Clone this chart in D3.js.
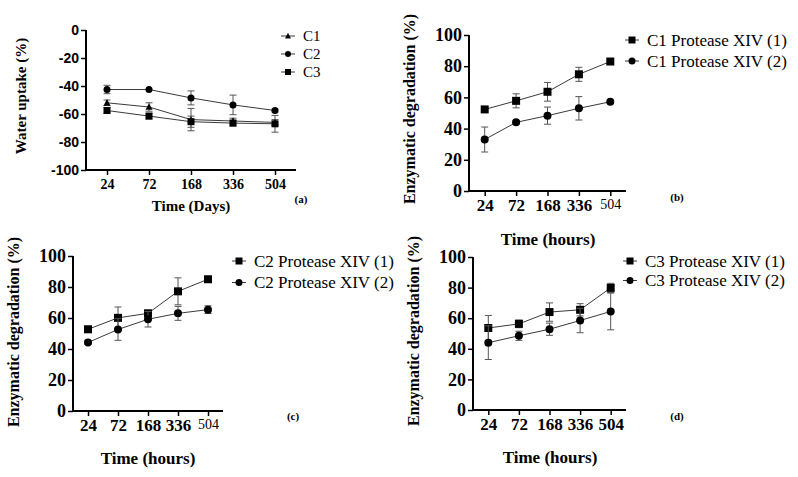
<!DOCTYPE html>
<html><head><meta charset="utf-8">
<script src="https://cdn.jsdelivr.net/npm/d3@7"></script>
<style>body{margin:0;background:#fff}svg{display:block}</style>
</head><body>
<svg id="chart" width="798" height="477"></svg>
<script>
// ---------- DATA ----------
const timeLabels = ["24", "72", "168", "336", "504"];

// Panel (a): water uptake (%)
const aSeries = ["C1", "C2", "C3"];
const aC1 = [-52, -55, -64, -65, -66];
const aC1err = [2, 3, 8, 2, 2];
const aC2 = [-42.5, -42.5, -48.5, -53.5, -57.5];
const aC2err = [3, 0, 5, 7, 1];
const aC3 = [-57.5, -61.5, -65.5, -66.5, -67];
const aC3err = [2, 2, 4, 2, 6];
const aYTicks = [0, -20, -40, -60, -80, -100];

// Panel (b): C1 enzymatic degradation (%)
const bSeries = ["C1 Protease XIV (1)", "C1 Protease XIV (2)"];
const bP1 = [52.3, 57.8, 63.6, 74.8, 83];
const bP1err = [1, 4.5, 6, 4.5, 1];
const bP2 = [33, 44, 48.3, 53, 57.2];
const bP2err = [8, 1, 5.5, 7.5, 1];

// Panel (c): C2 enzymatic degradation (%)
const cSeries = ["C2 Protease XIV (1)", "C2 Protease XIV (2)"];
const cP1 = [52.7, 60.1, 63, 77.2, 85];
const cP1err = [2, 7, 2, 8.7, 1];
const cP2 = [44.2, 52.6, 59.2, 63, 65.4];
const cP2err = [1, 7, 5, 4.5, 2.5];

// Panel (d): C3 enzymatic degradation (%)
const dSeries = ["C3 Protease XIV (1)", "C3 Protease XIV (2)"];
const dP1 = [53.6, 56.3, 64, 65.5, 79.8];
const dP1err = [8.2, 2.5, 6, 4, 3];
const dP2 = [44, 48.5, 52.8, 58.5, 64.4];
const dP2err = [11, 3, 4, 8, 12];
const degYTicks = [0, 20, 40, 60, 80, 100];

// ---------- DRAWING ----------
const svg = d3.select("#chart");
const SERIF = "'Liberation Serif', 'Times New Roman', serif";
const SANS = "'Liberation Sans', Arial, sans-serif";
const LINE = "#3a3a3a";

function marker(g, shape, x, y, s) {
  if (shape === "square") {
    g.append("rect").attr("x", x - s/2).attr("y", y - s/2).attr("width", s).attr("height", s).attr("fill", "#000");
  } else if (shape === "circle") {
    g.append("circle").attr("cx", x).attr("cy", y).attr("r", s/2).attr("fill", "#000");
  } else {
    const h = s * 0.9;
    g.append("path").attr("d", `M${x},${y - h*0.6}L${x + s/2},${y + h*0.45}L${x - s/2},${y + h*0.45}Z`).attr("fill", "#000");
  }
}

function txt(sel, family, size, weight) {
  return sel.style("font-family", family).style("font-size", size + "px").style("font-weight", weight).style("fill", "#000");
}

function panel(cfg) {
  const g = svg.append("g");
  const x = d3.scalePoint().domain(timeLabels).range([cfg.x0, cfg.x1]).padding(0.5);
  const y = d3.scaleLinear().domain(cfg.yDomain).range([cfg.yB, cfg.yT]);

  // axes
  const yAxis = g.append("g").attr("transform", `translate(${cfg.x0},0)`)
    .call(d3.axisLeft(y).tickValues(cfg.yTicks).tickSize(5).tickPadding(2).tickFormat(d => String(d)));
  txt(yAxis.selectAll("text"), cfg.yTickFont, cfg.yTickSize, "bold");
  const xAxis = g.append("g").attr("transform", `translate(0,${cfg.yB})`)
    .call(d3.axisBottom(x).tickSize(5).tickPadding(cfg.xTickPad));
  txt(xAxis.selectAll("text"), SERIF, cfg.xTickSize, "bold");
  if (cfg.smallLast) {
    const t = xAxis.selectAll(".tick").filter(d => d === "504").select("text");
    txt(t, SERIF, cfg.xTickSize - 3, "normal");
  }
  [yAxis, xAxis].forEach(a => {
    a.select(".domain").attr("stroke", "#000").attr("stroke-width", 2);
    a.selectAll(".tick line").attr("stroke", "#000").attr("stroke-width", 1.5);
  });
  xAxis.select(".domain").attr("d", `M${cfg.x0},0H${cfg.x1}`);
  yAxis.select(".domain").attr("d", `M0,${cfg.yT}V${cfg.yB}`);

  // series
  cfg.series.forEach(s => {
    const pts = s.vals.map((v, i) => [x(timeLabels[i]), y(v), s.err[i], v]);
    g.append("path").attr("d", d3.line()(pts.map(p => [p[0], p[1]])))
      .attr("fill", "none").attr("stroke", LINE).attr("stroke-width", 1);
    pts.forEach(p => {
      if (p[2] > 0) {
        const yt = y(p[3] + p[2]), yb = y(p[3] - p[2]);
        g.append("path").attr("d", `M${p[0]},${yt}V${yb}M${p[0]-3.5},${yt}H${p[0]+3.5}M${p[0]-3.5},${yb}H${p[0]+3.5}`)
          .attr("stroke", "#555").attr("stroke-width", 1).attr("fill", "none");
      }
    });
    pts.forEach(p => marker(g, s.shape, p[0], p[1], cfg.mSize));
  });

  // titles
  txt(g.append("text").attr("x", cfg.xtX).attr("y", cfg.xtY).attr("text-anchor", "middle"), SERIF, cfg.xtSize, "bold").text(cfg.xTitle);
  txt(g.append("text").attr("transform", `translate(${cfg.ytX},${cfg.ytY}) rotate(-90)`).attr("text-anchor", "middle"), SERIF, cfg.ytSize, "bold").text(cfg.yTitle);
  txt(g.append("text").attr("x", cfg.labX).attr("y", cfg.labY).attr("text-anchor", "middle"), SERIF, 11, "bold").text(cfg.label);

  // legend
  cfg.series.forEach((s, i) => {
    const ly = cfg.legY + i * cfg.legDy;
    g.append("line").attr("x1", cfg.legX).attr("x2", cfg.legX + 14).attr("y1", ly).attr("y2", ly)
      .attr("stroke", LINE).attr("stroke-width", 1);
    marker(g, s.shape, cfg.legX + 7, ly, cfg.mSize - 1);
    txt(g.append("text").attr("x", cfg.legX + 22).attr("y", ly).attr("dy", "0.35em"), SERIF, cfg.legSize, "normal").text(s.name);
  });
}

panel({
  x0: 86, x1: 296, yT: 30, yB: 170, yDomain: [-100, 0], yTicks: aYTicks,
  yTickFont: SANS, yTickSize: 14, xTickSize: 14, xTickPad: 4,
  series: [
    {name: aSeries[0], vals: aC1, err: aC1err, shape: "triangle"},
    {name: aSeries[1], vals: aC2, err: aC2err, shape: "circle"},
    {name: aSeries[2], vals: aC3, err: aC3err, shape: "square"}
  ],
  mSize: 7,
  xTitle: "Time (Days)", xtX: 191, xtY: 211, xtSize: 15,
  yTitle: "Water uptake (%)", ytX: 26, ytY: 96, ytSize: 15,
  label: "(a)", labX: 301, labY: 203,
  legX: 281, legY: 36, legDy: 18, legSize: 15
});

panel({
  x0: 469, x1: 626, yT: 35, yB: 191, yDomain: [0, 100], yTicks: degYTicks,
  yTickFont: SERIF, yTickSize: 18, xTickSize: 17, xTickPad: 3, smallLast: true,
  series: [
    {name: bSeries[0], vals: bP1, err: bP1err, shape: "square"},
    {name: bSeries[1], vals: bP2, err: bP2err, shape: "circle"}
  ],
  mSize: 8,
  xTitle: "Time (hours)", xtX: 548, xtY: 245, xtSize: 17,
  yTitle: "Enzymatic degradation (%)", ytX: 415, ytY: 109, ytSize: 16,
  label: "(b)", labX: 677, labY: 201,
  legX: 625, legY: 40, legDy: 21, legSize: 17
});

panel({
  x0: 73, x1: 223, yT: 256, yB: 411, yDomain: [0, 100], yTicks: degYTicks,
  yTickFont: SERIF, yTickSize: 18, xTickSize: 17, xTickPad: 3, smallLast: true,
  series: [
    {name: cSeries[0], vals: cP1, err: cP1err, shape: "square"},
    {name: cSeries[1], vals: cP2, err: cP2err, shape: "circle"}
  ],
  mSize: 8,
  xTitle: "Time (hours)", xtX: 148, xtY: 464, xtSize: 17,
  yTitle: "Enzymatic degradation (%)", ytX: 19, ytY: 332, ytSize: 16,
  label: "(c)", labX: 293, labY: 420,
  legX: 232, legY: 261, legDy: 21.5, legSize: 17
});

panel({
  x0: 473, x1: 626, yT: 257, yB: 410, yDomain: [0, 100], yTicks: degYTicks,
  yTickFont: SERIF, yTickSize: 18, xTickSize: 17, xTickPad: 3,
  series: [
    {name: dSeries[0], vals: dP1, err: dP1err, shape: "square"},
    {name: dSeries[1], vals: dP2, err: dP2err, shape: "circle"}
  ],
  mSize: 8,
  xTitle: "Time (hours)", xtX: 550, xtY: 463, xtSize: 17,
  yTitle: "Enzymatic degradation (%)", ytX: 419, ytY: 331, ytSize: 16,
  label: "(d)", labX: 677, labY: 420,
  legX: 623, legY: 261, legDy: 19.5, legSize: 17
});
</script>
</body></html>
